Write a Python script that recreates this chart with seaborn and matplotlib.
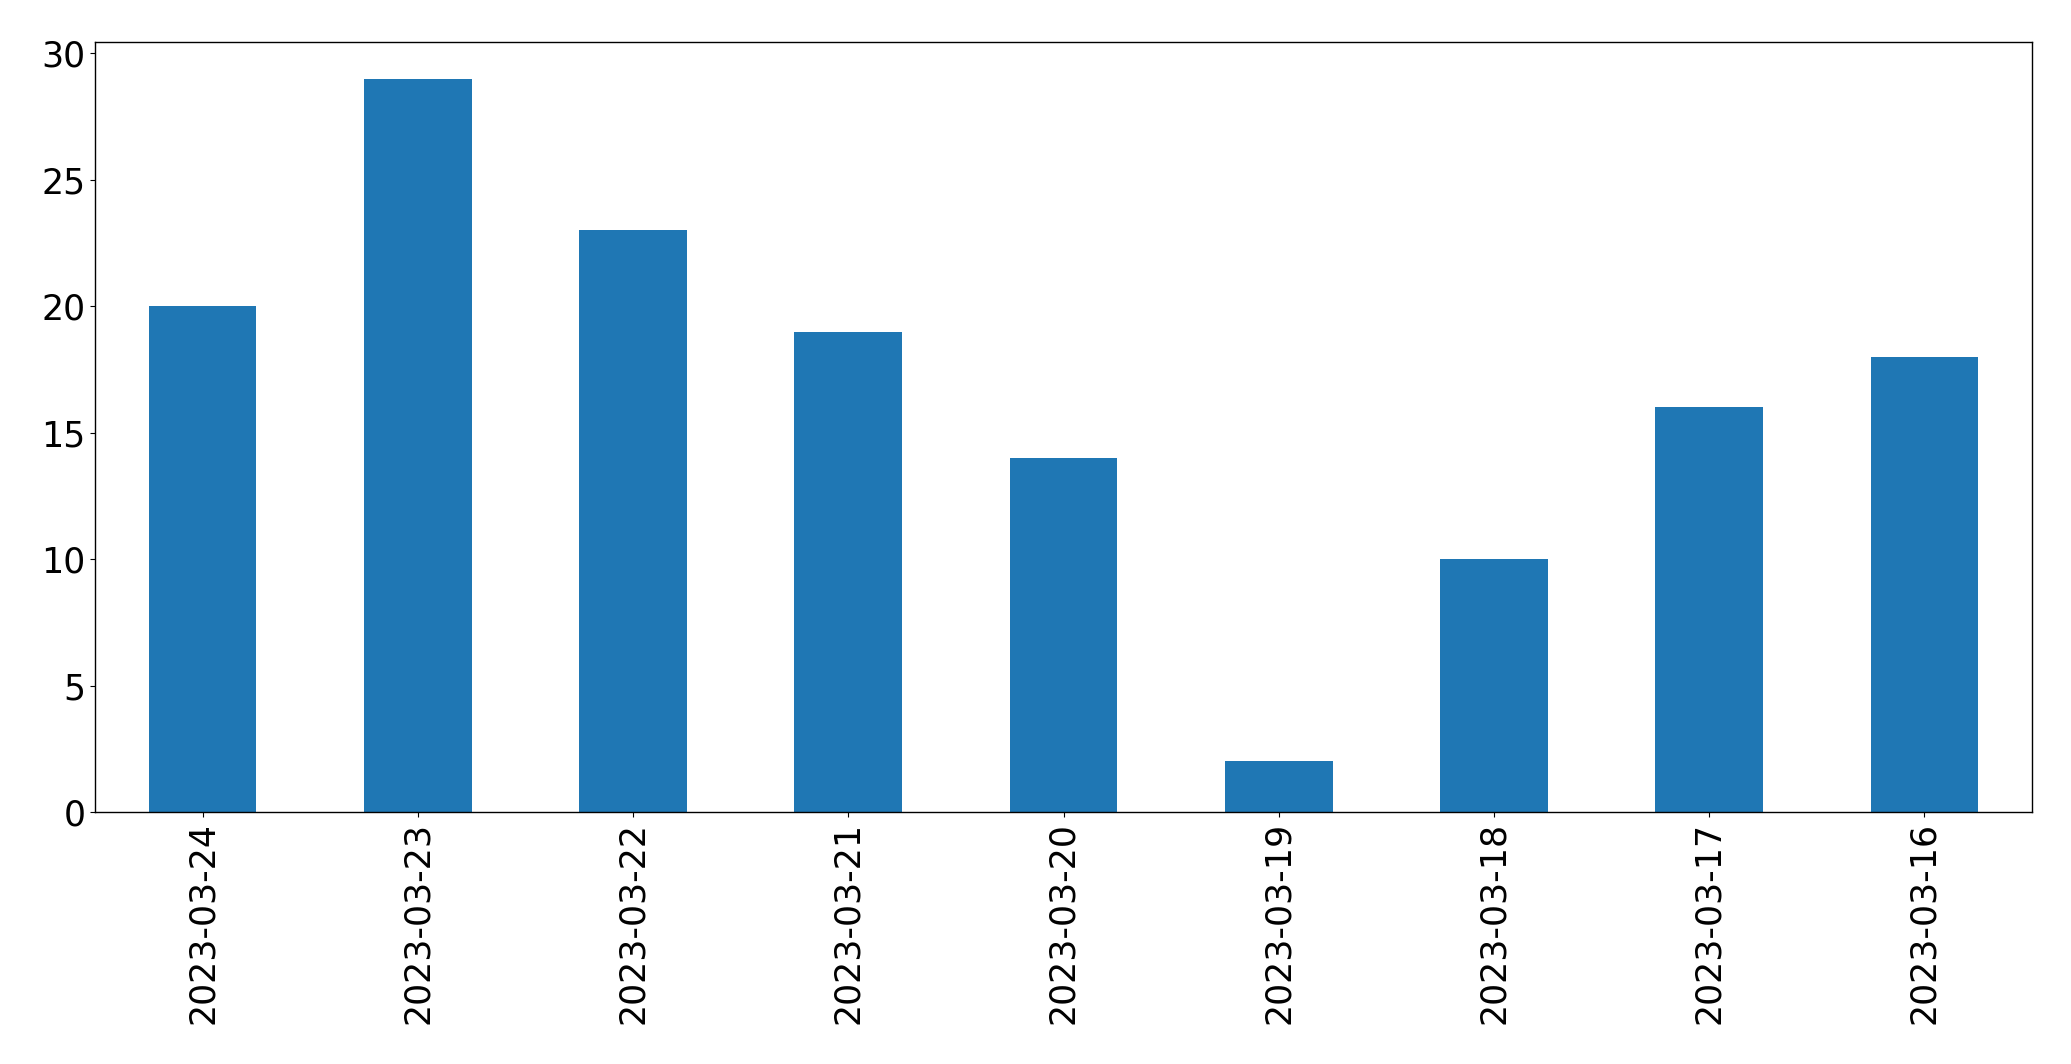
import matplotlib
matplotlib.use("Agg")
import matplotlib.pyplot as plt
import pandas as pd
import seaborn as sns

# daily counts, newest first
dates = ["2023-03-24", "2023-03-23", "2023-03-22", "2023-03-21", "2023-03-20",
         "2023-03-19", "2023-03-18", "2023-03-17", "2023-03-16"]
counts = [20, 29, 23, 19, 14, 2, 10, 16, 18]

df = pd.DataFrame({"date": dates, "count": counts})

fig = plt.figure(figsize=(20.71, 10.64), dpi=100)
ax = fig.add_axes([95 / 2071, 1 - 812 / 1064, (2032 - 95) / 2071, (812 - 42) / 1064])

sns.barplot(data=df, x="date", y="count", ax=ax, color="#1f77b4",
            saturation=1, width=0.5, order=dates, errorbar=None)
for p in ax.patches:
    p.set_edgecolor("none")

ax.set_xlim(-0.5, len(dates) - 0.5)
ax.set_ylim(0, max(counts) * 1.05)
ax.set_xlabel("")
ax.set_ylabel("")
ax.tick_params(axis="x", labelsize=25, rotation=90)
ax.tick_params(axis="y", labelsize=25)
for s in ax.spines.values():
    s.set_color("black")
    s.set_linewidth(1)

fig.savefig("out.png", dpi=100)
